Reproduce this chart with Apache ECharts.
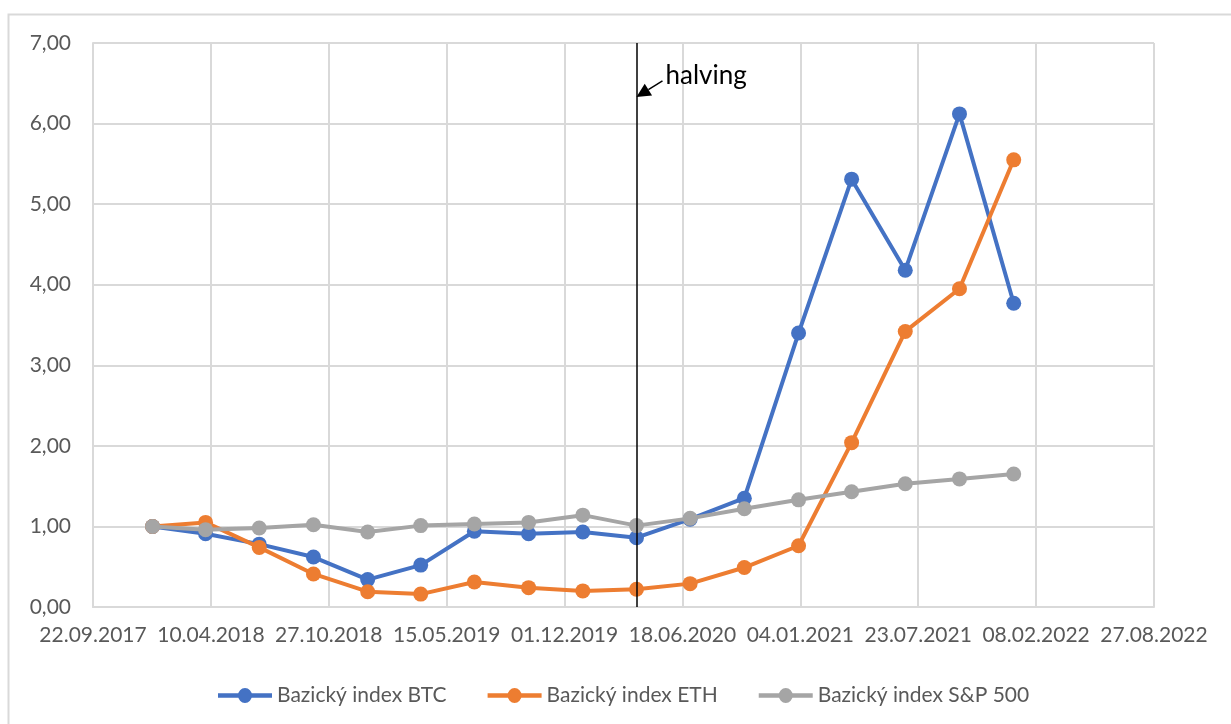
<!DOCTYPE html>
<html><head><meta charset="utf-8">
<script src="https://cdn.jsdelivr.net/npm/echarts@6/dist/echarts.min.js"></script>
<style>html,body{margin:0;padding:0;background:#fff}#c{width:1231px;height:724px}</style>
</head><body><div id="c"></div>
<script>
// ---- data ----
const baseDate = '2017-09-22';          // x-axis origin (first tick)
const xTickStepDays = 200;              // tick interval in days
const xMaxDays = 1800;                  // last tick: 27.08.2022
const dates = ['2018-01-01','2018-04-01','2018-07-01','2018-10-01',
               '2019-01-01','2019-04-01','2019-07-01','2019-10-01',
               '2020-01-01','2020-04-01','2020-07-01','2020-10-01',
               '2021-01-01','2021-04-01','2021-07-01','2021-10-01','2022-01-01'];
const btc = [1.00,0.91,0.78,0.62,0.34,0.52,0.94,0.91,0.93,0.86,1.09,1.35,3.40,5.31,4.18,6.12,3.77];
const eth = [1.00,1.05,0.74,0.41,0.19,0.16,0.31,0.24,0.20,0.22,0.29,0.49,0.76,2.04,3.42,3.95,5.55];
const sp  = [1.00,0.96,0.98,1.02,0.93,1.01,1.03,1.05,1.14,1.01,1.10,1.22,1.33,1.43,1.53,1.59,1.65];
const seriesNames = ['Bazický index BTC','Bazický index ETH','Bazický index S&P 500'];
const halvingDate = '2020-04-01';
const halvingLabel = 'halving';
const yMin = 0, yMax = 7, yStep = 1;

// ---- helpers ----
const DAY = 86400000;
const baseMs = Date.parse(baseDate + 'T00:00:00Z');
const toDays = d => (Date.parse(d + 'T00:00:00Z') - baseMs) / DAY;
const pad = n => String(n).padStart(2, '0');
const fmtDate = v => { const d = new Date(baseMs + v * DAY); return pad(d.getUTCDate()) + '.' + pad(d.getUTCMonth() + 1) + '.' + d.getUTCFullYear(); };
const pairs = arr => dates.map((d, i) => [toDays(d), arr[i]]);

const FONT = 'Lato, "Open Sans", sans-serif';
const colors = ['#4472C4', '#ED7D31', '#A5A5A5'];
const gridColor = '#d9d9d9';
// legend icon: thick line with a circle in the middle
const legendIcon = 'path://M0,5.5H20.5V9.5H0Z M33.5,5.5H54V9.5H33.5Z M20,7.5A7,7 0 1 1 34,7.5A7,7 0 1 1 20,7.5Z';

const chart = echarts.init(document.getElementById('c'), null, {renderer: 'canvas'});

function mkSeries(name, arr, idx) {
  return {
    name: name, type: 'line', data: pairs(arr),
    symbol: 'circle', symbolSize: 15, showSymbol: true,
    lineStyle: {width: 4, color: colors[idx]},
    itemStyle: {color: colors[idx]},
    z: 2 + idx, animation: false
  };
}
const series = [mkSeries(seriesNames[0], btc, 0), mkSeries(seriesNames[1], eth, 1), mkSeries(seriesNames[2], sp, 2)];
series[0].markLine = {
  silent: true, symbol: ['none', 'none'], animation: false,
  label: {show: false},
  lineStyle: {color: '#000', width: 1.5, type: 'solid'},
  emphasis: {disabled: true},
  data: [{xAxis: toDays(halvingDate)}]
};

const borderRect = {type: 'rect', silent: true, shape: {x: 8.5, y: 14.5, width: 1300, height: 800}, style: {fill: 'none', stroke: '#d9d9d9', lineWidth: 2}, z: -10};

chart.setOption({
  backgroundColor: '#fff',
  animation: false,
  color: colors,
  textStyle: {fontFamily: FONT},
  grid: {left: 93, right: 77, top: 43, bottom: 117, containLabel: false},
  xAxis: {
    type: 'value', min: 0, max: xMaxDays, interval: xTickStepDays,
    axisLine: {show: true, lineStyle: {color: gridColor, width: 2}},
    axisTick: {show: false},
    splitLine: {show: true, lineStyle: {color: gridColor, width: 2}},
    axisLabel: {formatter: fmtDate, color: '#595959', fontSize: 21, fontFamily: FONT, margin: 18, showMinLabel: true, showMaxLabel: true}
  },
  yAxis: {
    type: 'value', min: yMin, max: yMax, interval: yStep,
    axisLine: {show: true, lineStyle: {color: gridColor, width: 2}},
    axisTick: {show: false},
    splitLine: {show: true, lineStyle: {color: gridColor, width: 2}},
    axisLabel: {formatter: v => v.toFixed(2).replace('.', ','), color: '#595959', fontSize: 21, fontFamily: FONT, margin: 22}
  },
  legend: {
    data: seriesNames, left: 213, top: 680, itemWidth: 54, itemHeight: 15, itemGap: 41,
    icon: legendIcon, symbolKeepAspect: false,
    textStyle: {fontSize: 21, color: '#595959', fontFamily: FONT},
    selectedMode: false
  },
  series: series,
  graphic: [borderRect]
});

// halving annotation (arrow + text), positioned via the chart's own scales
const tip = chart.convertToPixel({gridIndex: 0}, [toDays(halvingDate), 6.33]);
const tail = [tip[0] + 26, tip[1] - 16];
const dx = tip[0] - tail[0], dy = tip[1] - tail[1], L = Math.hypot(dx, dy);
const ux = dx / L, uy = dy / L, hl = 14, hw = 7;
const bx = tip[0] - ux * hl, by = tip[1] - uy * hl;
chart.setOption({
  graphic: [
    borderRect,
    {type: 'line', silent: true, shape: {x1: tail[0], y1: tail[1], x2: bx, y2: by}, style: {stroke: '#000', lineWidth: 1.5}, z: 20},
    {type: 'polygon', silent: true, shape: {points: [[tip[0], tip[1]], [bx - uy * hw, by + ux * hw], [bx + uy * hw, by - ux * hw]]}, style: {fill: '#000'}, z: 20},
    {type: 'text', silent: true, x: tail[0] + 3, y: tail[1] - 5, style: {text: halvingLabel, font: '26px ' + FONT, fill: '#000', textVerticalAlign: 'middle'}, z: 20}
  ]
});
</script>
</body></html>
